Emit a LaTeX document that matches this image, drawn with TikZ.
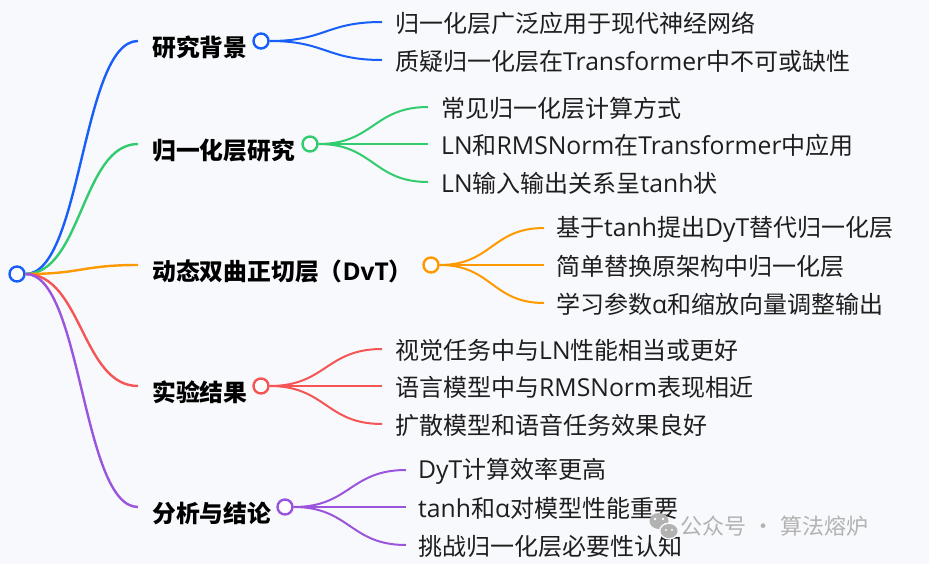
\documentclass[tikz,border=0pt]{standalone}
\usepackage{fontspec}
\setmainfont{Noto Sans CJK SC}
\newfontfamily\latf[Scale=1.03]{Open Sans}
\newcommand\La[1]{{\latf #1}}
\usetikzlibrary{calc}
\definecolor{bgc}{RGB}{248,249,252}
\definecolor{cblue}{RGB}{24,94,250}
\definecolor{cgreen}{RGB}{50,204,110}
\definecolor{corange}{RGB}{255,153,0}
\definecolor{cred}{RGB}{245,85,85}
\definecolor{cpurple}{RGB}{155,85,220}
\definecolor{txt}{RGB}{30,30,30}
\definecolor{wm}{RGB}{178,178,178}
\tikzset{
  dot/.style={circle,fill=white,line width=2.4pt,minimum size=15pt,inner sep=0pt},
  rootlink/.style={line width=2.4pt},
  childlink/.style={line width=2pt},
  topic/.style={anchor=west,inner sep=0pt,font=\fontsize{23.8pt}{25pt}\selectfont\bfseries,text=black},
  leaf/.style={anchor=west,inner sep=0pt,font=\fontsize{24pt}{26pt}\selectfont,text=txt},
}
\newcommand\mmlink[3]{%
  \path ($(#2)!0.5!(#3)$) coordinate (mid);
  \draw[#1] (#2) .. controls (mid |- #2) and (mid |- #3) .. (#3);}
\begin{document}
\begin{tikzpicture}[x=1pt,y=-1pt]
\fill[bgc] (0,0) rectangle (929,564);
\useasboundingbox (0,0) rectangle (929,564);

% root
\node[dot,draw=cblue] (root) at (17,274) {};

% topic anchors
\coordinate (t1) at (138,41);
\coordinate (t2) at (138,144);
\coordinate (t3) at (138,265);
\coordinate (t4) at (138,386);
\coordinate (t5) at (138,507);

\mmlink{rootlink,cblue}{root.east}{t1}
\mmlink{rootlink,cgreen}{root.east}{t2}
\mmlink{rootlink,corange}{root.east}{t3}
\mmlink{rootlink,cred}{root.east}{t4}
\mmlink{rootlink,cpurple}{root.east}{t5}

% topic labels
\node[topic] (n1) at (152,47) {研究背景};
\node[topic] (n2) at (152,150) {归一化层研究};
\node[topic] (n3) at (152,271) {动态双曲正切层（\La{DvT}）};
\node[topic] (n4) at (152,392) {实验结果};
\node[topic] (n5) at (152,513) {分析与结论};

% topic circles
\node[dot,draw=cblue] (c1) at (261,41) {};
\node[dot,draw=cgreen] (c2) at (310,144) {};
\node[dot,draw=corange] (c3) at (431,265) {};
\node[dot,draw=cred] (c4) at (261,386) {};
\node[dot,draw=cpurple] (c5) at (285,507) {};

% branch 1
\coordinate (e1a) at (382,22);
\coordinate (e1b) at (382,60);
\mmlink{childlink,cblue}{c1.east}{e1a}
\mmlink{childlink,cblue}{c1.east}{e1b}
\node[leaf] (l1a) at (395,23) {归一化层广泛应用于现代神经网络};
\node[leaf] (l1b) at (395,61.5) {质疑归一化层在\La{Transformer}中不可或缺性};

% branch 2
\coordinate (e2a) at (428,107);
\coordinate (e2b) at (428,144);
\coordinate (e2c) at (428,182);
\mmlink{childlink,cgreen}{c2.east}{e2a}
\mmlink{childlink,cgreen}{c2.east}{e2b}
\mmlink{childlink,cgreen}{c2.east}{e2c}
\node[leaf] (l2a) at (441,108) {常见归一化层计算方式};
\node[leaf] (l2b) at (441,145.5) {\La{LN}和\La{RMSNorm}在\La{Transformer}中应用};
\node[leaf] (l2c) at (441,183.5) {\La{LN}输入输出关系呈\La{tanh}状};

% branch 3
\coordinate (e3a) at (544,228);
\coordinate (e3b) at (544,265);
\coordinate (e3c) at (544,303);
\mmlink{childlink,corange}{c3.east}{e3a}
\mmlink{childlink,corange}{c3.east}{e3b}
\mmlink{childlink,corange}{c3.east}{e3c}
\node[leaf] (l3a) at (556,229) {基于\La{tanh}提出\La{DyT}替代归一化层};
\node[leaf] (l3b) at (556,266.5) {简单替换原架构中归一化层};
\node[leaf] (l3c) at (556,304.5) {学习参数\La{α}和缩放向量调整输出};

% branch 4
\coordinate (e4a) at (382,349);
\coordinate (e4b) at (382,386);
\coordinate (e4c) at (382,424);
\mmlink{childlink,cred}{c4.east}{e4a}
\mmlink{childlink,cred}{c4.east}{e4b}
\mmlink{childlink,cred}{c4.east}{e4c}
\node[leaf] (l4a) at (395,350.5) {视觉任务中与\La{LN}性能相当或更好};
\node[leaf] (l4b) at (395,387.5) {语言模型中与\La{RMSNorm}表现相近};
\node[leaf] (l4c) at (395,425.5) {扩散模型和语音任务效果良好};

% branch 5
\coordinate (e5a) at (406,470);
\coordinate (e5b) at (406,507);
\coordinate (e5c) at (406,545);
\mmlink{childlink,cpurple}{c5.east}{e5a}
\mmlink{childlink,cpurple}{c5.east}{e5b}
\mmlink{childlink,cpurple}{c5.east}{e5c}
\node[leaf] (l5a) at (418,471.5) {\La{DyT}计算效率更高};
\node[leaf] (l5b) at (418,508.5) {\La{tanh}和\La{α}对模型性能重要};
\node[leaf] (l5c) at (418,546.5) {挑战归一化层必要性认知};

% watermark
\fill[wm] (659,521) ellipse (9.5pt and 8pt);
\fill[bgc] (669,531) ellipse (10pt and 8.5pt);
\fill[wm] (669,531) ellipse (8.5pt and 7pt);
\fill[white] (655,519) circle (1.3pt) (663,519) circle (1.3pt);
\fill[white] (666,530) circle (1.1pt) (672,530) circle (1.1pt);
\node[anchor=west,inner sep=0pt,text=wm,font=\fontsize{22pt}{24pt}\selectfont] (wmk) at (680,526) {公众号\hspace{6pt}·\hspace{6pt}算法熔炉};
\end{tikzpicture}
\end{document}
